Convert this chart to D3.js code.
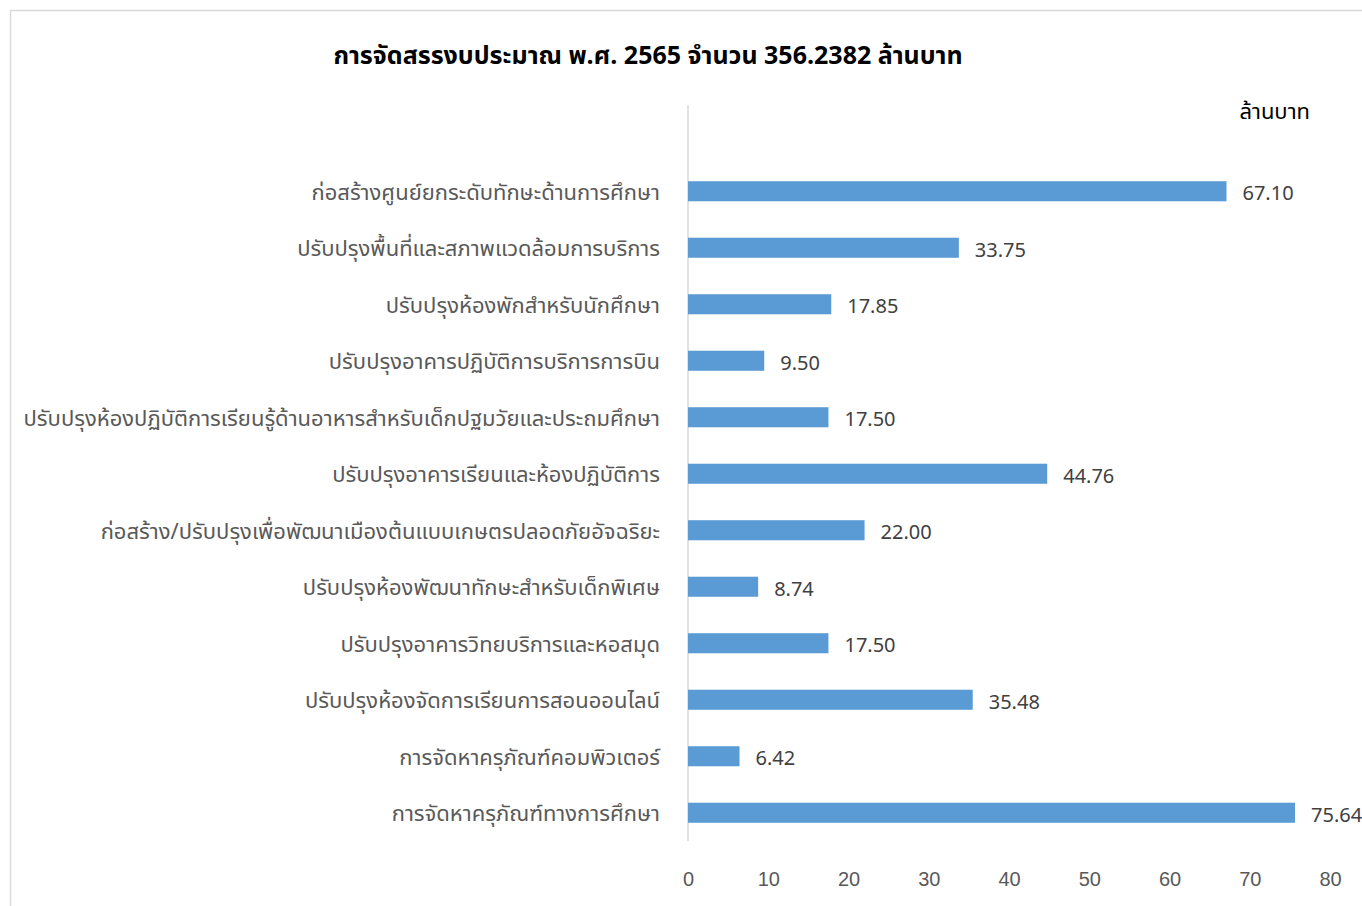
<!DOCTYPE html>
<html><head><meta charset="utf-8">
<script src="https://cdn.jsdelivr.net/npm/d3@7"></script>
<style>
body{margin:0;background:#fff;}
svg{display:block;font-family:"Noto Sans Thai","Leelawadee UI","Noto Sans",Tahoma,sans-serif;}
</style></head><body>
<svg id="chart" width="1362" height="906"></svg>
<script>
const categories = [
  "ก่อสร้างศูนย์ยกระดับทักษะด้านการศึกษา",
  "ปรับปรุงพื้นที่และสภาพแวดล้อมการบริการ",
  "ปรับปรุงห้องพักสำหรับนักศึกษา",
  "ปรับปรุงอาคารปฏิบัติการบริการการบิน ",
  "ปรับปรุงห้องปฏิบัติการเรียนรู้ด้านอาหารสำหรับเด็กปฐมวัยและประถมศึกษา",
  "ปรับปรุงอาคารเรียนและห้องปฏิบัติการ",
  "ก่อสร้าง/ปรับปรุงเพื่อพัฒนาเมืองต้นแบบเกษตรปลอดภัยอัจฉริยะ",
  "ปรับปรุงห้องพัฒนาทักษะสำหรับเด็กพิเศษ",
  "ปรับปรุงอาคารวิทยบริการและหอสมุด",
  "ปรับปรุงห้องจัดการเรียนการสอนออนไลน์",
  "การจัดหาครุภัณฑ์คอมพิวเตอร์",
  "การจัดหาครุภัณฑ์ทางการศึกษา"
];
const values = [67.10, 33.75, 17.85, 9.50, 17.50, 44.76, 22.00, 8.74, 17.50, 35.48, 6.42, 75.64];
const xTicks = [0, 10, 20, 30, 40, 50, 60, 70, 80];
const title = "การจัดสรรงบประมาณ พ.ศ. 2565 จำนวน 356.2382 ล้านบาท";
const unitLabel = "ล้านบาท";

const svg = d3.select("#chart");
svg.append("rect").attr("x", 10.5).attr("y", 10.5).attr("width", 1362).attr("height", 906)
  .attr("fill", "none").attr("stroke", "#d9d9d9").attr("stroke-width", 1.5);

const x = d3.scaleLinear().domain([0, 80]).range([688, 1330]);
const y = d3.scaleBand().domain(categories).range([163, 841]).paddingInner(0.645).paddingOuter(0.3225);

svg.append("text").attr("x", 648).attr("y", 64).attr("text-anchor", "middle")
  .attr("font-size", 25).attr("font-weight", "bold").attr("fill", "#000").text(title);

svg.append("text").attr("x", 1310).attr("y", 119).attr("text-anchor", "end")
  .attr("font-size", 22).attr("fill", "#000").text(unitLabel);

svg.append("line").attr("x1", x(0)).attr("x2", x(0)).attr("y1", 105).attr("y2", 841)
  .attr("stroke", "#d9d9d9").attr("stroke-width", 1.5);

svg.selectAll("rect.bar").data(values).join("rect").attr("class", "bar")
  .attr("x", x(0)).attr("y", (d, i) => y(categories[i]))
  .attr("width", d => x(d) - x(0)).attr("height", y.bandwidth())
  .attr("fill", "#5b9bd5");

svg.selectAll("text.val").data(values).join("text").attr("class", "val")
  .attr("x", d => x(d) + 16).attr("y", (d, i) => y(categories[i]) + y.bandwidth() / 2 + 2)
  .attr("dy", "0.35em").attr("font-size", 20).attr("fill", "#404040")
  .text(d => d.toFixed(2));

svg.selectAll("text.cat").data(categories).join("text").attr("class", "cat")
  .attr("x", 660).attr("y", d => y(d) + y.bandwidth() / 2 + 1)
  .attr("dy", "0.35em").attr("text-anchor", "end").attr("font-size", 22).attr("fill", "#595959")
  .text(d => d);

const xAxis = d3.axisBottom(x).tickValues(xTicks).tickSize(0).tickPadding(0);
const gx = svg.append("g").attr("transform", "translate(0,872)").call(xAxis);
gx.select(".domain").remove();
gx.selectAll("text").attr("font-size", 20).attr("fill", "#595959")
  .attr("font-family", "inherit");
</script>
</body></html>
